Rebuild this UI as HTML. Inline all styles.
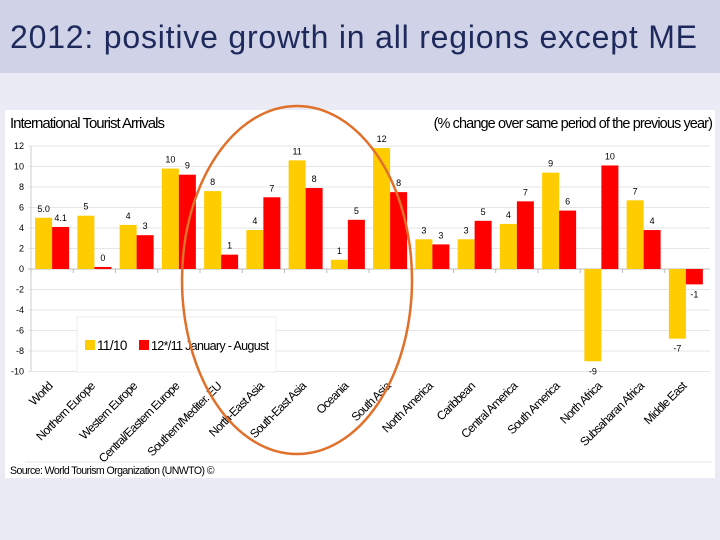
<!DOCTYPE html>
<html><head><meta charset="utf-8"><style>
body{margin:0;width:720px;height:540px;background:#eaebf5;overflow:hidden;font-family:"Liberation Sans",sans-serif}
#title{position:absolute;left:0;top:0;width:720px;height:73px;background:#d0d3e7}
#title span{position:absolute;left:10px;top:19px;font-size:32px;color:#1f2a5c;letter-spacing:0.8px;white-space:nowrap}
</style></head><body>
<div id="title"><span>2012: positive growth in all regions except ME</span></div>
<svg id="chart" width="720" height="540" style="position:absolute;left:0;top:0">
<rect x="5" y="110" width="710" height="368" fill="#fff"/>
<text x="10" y="128" font-size="15" letter-spacing="-1" fill="#000">International Tourist Arrivals</text>
<text x="712" y="128" font-size="14.5" letter-spacing="-0.9" text-anchor="end" fill="#000">(% change over same period of the previous year)</text>
<line x1="25" y1="462" x2="712" y2="462" stroke="#e4e4e4"/>
<text x="10" y="474" font-size="10.6" letter-spacing="-0.6" fill="#000">Source: World Tourism Organization (UNWTO) ©</text>
<g id="grid"></g><g id="bars"></g><g id="labels"></g><g id="xl"></g>
<g>
<rect x="77" y="317" width="199" height="55" fill="#fff" stroke="#eee"/>
<rect x="85" y="340" width="10" height="10" fill="#ffcc00"/>
<text x="97" y="350" font-size="13.5" letter-spacing="-0.6">11/10</text>
<rect x="139" y="340" width="10" height="10" fill="#ff0000"/>
<text x="151" y="350" font-size="12.6" letter-spacing="-0.7">12*/11 January - August</text>
</g>
<ellipse cx="297" cy="280" rx="115" ry="174" fill="none" stroke="#e0702a" stroke-width="2.5"/>
</svg>
<script>
const categories=["World","Northern Europe","Western Europe","Central/Eastern Europe","Southern/Mediter. EU","North-East Asia","South-East Asia","Oceania","South Asia","North America","Caribbean","Central America","South America","North Africa","Subsaharan Africa","Middle East"];
const series1110=[5.0,5.2,4.3,9.8,7.6,3.8,10.6,0.9,11.8,2.9,2.9,4.4,9.4,-9.0,6.7,-6.8];
const series1211=[4.1,0.2,3.3,9.2,1.4,7.0,7.9,4.8,7.5,2.4,4.7,6.6,5.7,10.1,3.8,-1.5];
const labels1110=["5.0","5","4","10","8","4","11","1","12","3","3","4","9","-9","7","-7"];
const labels1211=["4.1","0","3","9","1","7","8","5","8","3","5","7","6","10","4","-1"];
const yTicks=[12,10,8,6,4,2,0,-2,-4,-6,-8,-10];
const NS="http://www.w3.org/2000/svg";
const x0=31,gw=42.25,bw=17;
function y(v){return 269-v*10.25;}
function gx(i){return x0+gw*i;}
function mk(t,a,p){const e=document.createElementNS(NS,t);for(const k in a)e.setAttribute(k,a[k]);p.appendChild(e);return e;}
const G=document.getElementById('grid'),B=document.getElementById('bars'),L=document.getElementById('labels'),X=document.getElementById('xl');
yTicks.forEach(t=>{
 const l=mk('line',{x1:x0-3,x2:710,y1:y(t),y2:y(t),stroke:t===0?'#bbb':'#e6e6e6'},G);
 
 
 const tx=mk('text',{x:24,y:y(t)+3,'font-size':9,'text-anchor':'end',fill:'#000'},G);
 tx.textContent=t;
 
 
});
mk('line',{x1:x0,x2:x0,y1:y(12),y2:y(-10),stroke:'#ccc'},G);
categories.forEach((c,i)=>{
 const cx=gx(i)+gw/2;
 [[series1110[i],'#ffcc00',-bw,labels1110[i]],[series1211[i],'#ff0000',0,labels1211[i]]].forEach(([v,col,off,lab],k)=>{
  const r=mk('rect',{x:cx+off,y:Math.min(y(v),y(0)),width:bw,height:Math.abs(y(v)-y(0)),fill:col},B);
  
  
  const ly=v>=0?y(v)-6:y(v)+13;
  const t=mk('text',{x:cx+off+bw/2,y:ly,'font-size':9,'text-anchor':'middle',fill:'#000'},L);
  t.textContent=lab;
  
  
 });
 mk('line',{x1:gx(i),x2:gx(i),y1:269,y2:273,stroke:'#bbb'},G);
 const t=mk('text',{x:0,y:0,'font-size':12,'letter-spacing':'-0.8','text-anchor':'end',fill:'#000',transform:`translate(${cx+1},${387}) rotate(-45)`},X);
 t.textContent=c;
 
 
});
</script>
</body></html>
